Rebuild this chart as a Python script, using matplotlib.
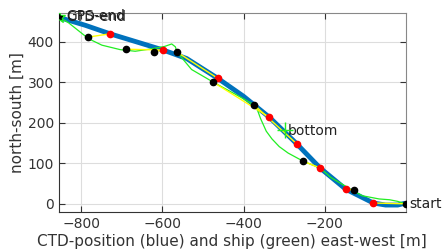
import matplotlib
matplotlib.use("Agg")
import matplotlib.pyplot as plt

# CTD track (blue)
ctd_x = [-850, -790, -729, -660, -598, -540, -463, -400, -336, -269, -211, -148, -100, -80, -50, -20, -8]
ctd_y = [458, 440, 419, 398, 379, 358, 309, 265, 213, 148, 88, 36, 12, 2, -3, -3, 0]

# ship GPS track (green)
ship_x = [0, -20, -40, -66, -108, -136, -160, -185, -211, -253, -290, -312, -330, -344, -358, -366,
          -373, -420, -475, -492, -528, -564, -568, -577, -594, -626, -667, -704, -749, -782, -831, -855]
ship_y = [0, 6, 10, 12, 20, 36, 50, 65, 88, 105, 125, 141, 160, 179, 210, 232,
          243, 270, 300, 310, 331, 374, 387, 394, 388, 382, 376, 380, 391, 407, 446, 461]

# CTD positions at sample times (red) and ship positions (black)
red_x = [-80, -148, -211, -269, -336, -463, -598, -729]
red_y = [2, 36, 88, 148, 213, 309, 379, 419]
blk_x = [0, -128, -253, -373, -475, -564, -621, -690, -782]
blk_y = [0, 33, 105, 243, 300, 374, 375, 381, 411]

# yellow connections ship -> ctd
link_ship = [(0, 0), (-128, 33), (-253, 105), (-373, 243), (-475, 300), (-564, 374), (-621, 375), (-690, 381), (-782, 411)]
link_ctd = [(-80, 2), (-148, 36), (-211, 88), (-269, 148), (-336, 213), (-463, 309), (-598, 379), (-598, 379), (-729, 419)]

end_pos = (-855, 461)
bottom_pos = (-297, 182)

fig = plt.figure(figsize=(4.46, 2.52), dpi=100)
ax = fig.add_axes([0.132, 0.159, 0.778, 0.789])

ax.plot(ctd_x, ctd_y, color="#0072BD", lw=3.5, zorder=2)
ax.plot(ship_x, ship_y, color="#22ee22", lw=0.9, zorder=3)
for (sx, sy), (cx, cy) in zip(link_ship, link_ctd):
    ax.plot([sx, cx], [sy, cy], color="#ffff00", lw=1.0, zorder=3)
ax.plot(red_x, red_y, "o", color="red", ms=4.5, zorder=4)
ax.plot(blk_x, blk_y, "o", color="black", ms=4.5, zorder=4)

ax.plot(*end_pos, "*", color="#22ee22", ms=9, zorder=5)
ax.plot(*end_pos, "*", color="black", ms=4, zorder=6)
ax.plot(*bottom_pos, "+", color="#22ee22", ms=12, mew=1, zorder=5)

# the two end labels sit on top of each other, as in the original
ax.text(-838, 462, "GPS-end", fontsize=10, va="center", color="#222222")
ax.text(-838, 460, "CTD-end", fontsize=10, va="center", color="#222222")
ax.text(-290, 180, "bottom", fontsize=10, va="center", color="#222222")
ax.text(8, 0, "start", fontsize=10, va="center", color="#222222")

ax.set_xlim(-855, 0)
ax.set_ylim(-20, 470)
ax.set_xticks([-800, -600, -400, -200])
ax.set_yticks([0, 100, 200, 300, 400])
ax.grid(True, color="#dddddd", lw=0.8)
ax.set_axisbelow(True)
ax.tick_params(direction="in", top=True, right=True, labelsize=10, colors="#333333", length=4)
for s in ["top", "right"]:
    ax.spines[s].set_color("#888888")
for s in ["left", "bottom"]:
    ax.spines[s].set_color("#333333")
ax.set_xlabel("CTD-position (blue) and ship (green) east-west [m]", fontsize=11, color="#333333", labelpad=2)
ax.set_ylabel("north-south [m]", fontsize=11, color="#333333", labelpad=2)

fig.savefig("out.png", dpi=100)
